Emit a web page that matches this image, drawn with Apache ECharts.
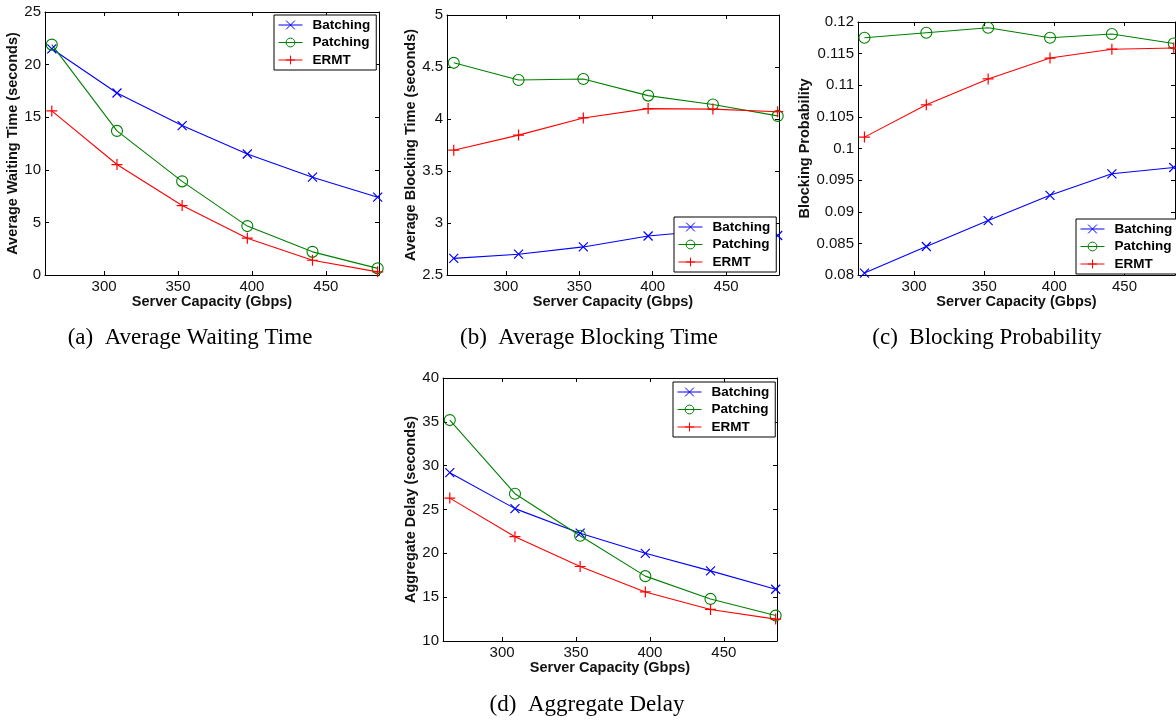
<!DOCTYPE html>
<html>
<head>
<meta charset="utf-8">
<script src="https://cdn.jsdelivr.net/npm/echarts@6/dist/echarts.min.js"></script>
<style>
  html, body { margin: 0; padding: 0; background: #fff; }
  #chart { width: 1176px; height: 721px; }
</style>
</head>
<body>
<div id="chart"></div>
<script>
// ---- data ----
const seriesNames = ['Batching', 'Patching', 'ERMT'];
const capacity = [264.6, 308.7, 352.8, 396.9, 441.0, 485.1];
const xTicks = [300, 350, 400, 450];

const waitBatching = [21.5, 17.3, 14.2, 11.5, 9.3, 7.4];
const waitPatching = [21.9, 13.7, 8.9, 4.65, 2.2, 0.63];
const waitERMT     = [15.6, 10.5, 6.6, 3.5, 1.4, 0.3];

const blockTimeBatching = [2.66, 2.70, 2.77, 2.875, 2.93, 2.88];
const blockTimePatching = [4.54, 4.375, 4.385, 4.225, 4.14, 4.03];
const blockTimeERMT     = [3.70, 3.845, 4.01, 4.10, 4.095, 4.07];

const blockProbBatching = [0.0803, 0.0845, 0.0886, 0.0926, 0.0960, 0.0970];
const blockProbPatching = [0.1175, 0.1183, 0.1191, 0.1175, 0.1181, 0.1166];
const blockProbERMT     = [0.1018, 0.1069, 0.1110, 0.1143, 0.1157, 0.1159];

const aggBatching = [29.2, 25.1, 22.3, 20.0, 18.0, 15.9];
const aggPatching = [35.2, 26.8, 22.0, 17.4, 14.8, 12.9];
const aggERMT     = [26.3, 21.9, 18.5, 15.6, 13.6, 12.5];

const panelYTitles = ['Average Waiting Time (seconds)', 'Average Blocking Time (seconds)', 'Blocking Probability', 'Aggregate Delay (seconds)'];
const panelCaptions = ['(a)  Average Waiting Time', '(b)  Average Blocking Time', '(c)  Blocking Probability', '(d)  Aggregate Delay'];
const xTitle = 'Server Capacity (Gbps)';

// ---- layout / style ----
const panels = [
  { grid: { left: 45, top: 12, width: 334, height: 263 }, y: { min: 0, max: 25, interval: 5 }, gap: 20,
    data: [waitBatching, waitPatching, waitERMT], legend: { left: 274, top: 15 }, cap: [190, 338] },
  { grid: { left: 447, top: 15, width: 332, height: 260 }, y: { min: 2.5, max: 5, interval: 0.5 }, gap: 24,
    data: [blockTimeBatching, blockTimePatching, blockTimeERMT], legend: { left: 674, top: 217 }, cap: [589, 338] },
  { grid: { left: 858, top: 22, width: 317, height: 253 }, y: { min: 0.08, max: 0.12, interval: 0.005 }, gap: 35,
    data: [blockProbBatching, blockProbPatching, blockProbERMT], legend: { left: 1076, top: 219 }, cap: [987, 338] },
  { grid: { left: 443, top: 378, width: 334, height: 263 }, y: { min: 10, max: 40, interval: 5 }, gap: 18,
    data: [aggBatching, aggPatching, aggERMT], legend: { left: 673, top: 382 }, cap: [587, 705] }
];

const colors = ['#0000ff', '#008000', '#ff0000'];
const symbols = ['path://M0,0L10,10M10,0L0,10', 'circle', 'path://M5,0L5,10M0,5L10,5'];
const symbolSizes = [9, 11, 11];

const sansFont = 'Liberation Sans, Arial, Helvetica, sans-serif';
const axisLineStyle = { color: '#000', width: 1 };

const grids = [], xAxes = [], yAxes = [], series = [], legends = [], graphics = [];

panels.forEach((p, i) => {
  grids.push(Object.assign({ containLabel: false }, p.grid));
  const xBase = {
    type: 'value', gridIndex: i, min: 260, max: 486,
    axisLine: { show: true, onZero: false, lineStyle: axisLineStyle },
    axisTick: { show: true, inside: true, length: 4, customValues: xTicks, lineStyle: axisLineStyle },
    splitLine: { show: false }
  };
  xAxes.push(Object.assign({}, xBase, {
    position: 'bottom',
    axisLabel: { show: true, customValues: xTicks, fontSize: 15, color: '#111', fontFamily: sansFont, margin: 4 },
    name: xTitle, nameLocation: 'middle', nameGap: 14,
    nameTextStyle: { fontFamily: sansFont, fontWeight: 'bold', fontSize: 14.5, color: '#111', verticalAlign: 'top' }
  }));
  xAxes.push(Object.assign({}, xBase, { position: 'top', axisLabel: { show: false } }));
  const yBase = {
    type: 'value', gridIndex: i, min: p.y.min, max: p.y.max, interval: p.y.interval,
    axisLine: { show: true, onZero: false, lineStyle: axisLineStyle },
    axisTick: { show: true, inside: true, length: 4, lineStyle: axisLineStyle },
    splitLine: { show: false }
  };
  yAxes.push(Object.assign({}, yBase, {
    position: 'left',
    axisLabel: { show: true, fontSize: 15, color: '#111', fontFamily: sansFont, margin: 4 },
    name: panelYTitles[i], nameLocation: 'middle', nameGap: p.gap, nameRotate: 90,
    nameTextStyle: { fontFamily: sansFont, fontWeight: 'bold', fontSize: 14.5, color: '#111' }
  }));
  yAxes.push(Object.assign({}, yBase, { position: 'right', axisLabel: { show: false } }));

  p.data.forEach((vals, k) => {
    series.push({
      name: seriesNames[k], type: 'line', xAxisIndex: 2 * i, yAxisIndex: 2 * i,
      data: capacity.map((x, j) => [x, vals[j]]),
      symbol: symbols[k], symbolSize: symbolSizes[k], showAllSymbol: true,
      lineStyle: { color: colors[k], width: 1.1 },
      itemStyle: k === 1
        ? { color: 'rgba(0,0,0,0)', borderColor: colors[k], borderWidth: 1.1 }
        : { color: colors[k], borderColor: colors[k], borderWidth: 1.2 },
      emphasis: { disabled: true }, animation: false, z: 3
    });
  });

  legends.push({
    left: p.legend.left, top: p.legend.top, orient: 'vertical',
    itemWidth: 24, itemHeight: 11, itemGap: 3.5, padding: [3, 6, 3, 4],
    borderColor: '#000', borderWidth: 1, backgroundColor: '#fff',
    selectedMode: false, data: seriesNames,
    lineStyle: { width: 1 }, itemStyle: { borderWidth: 1 },
    textStyle: { fontFamily: sansFont, fontWeight: 'bold', fontSize: 13.5, color: '#000', padding: [0, 0, 0, 5] }
  });

  graphics.push({
    type: 'text', x: p.cap[0], y: p.cap[1],
    style: { text: panelCaptions[i], textAlign: 'center', textVerticalAlign: 'middle',
             font: 'normal 23px "Liberation Serif", "Times New Roman", serif', fill: '#000' }
  });
});

const chart = echarts.init(document.getElementById('chart'), null, { renderer: 'canvas' });
chart.setOption({
  backgroundColor: '#fff',
  animation: false,
  grid: grids, xAxis: xAxes, yAxis: yAxes, series: series, legend: legends, graphic: graphics
});
</script>
</body>
</html>
